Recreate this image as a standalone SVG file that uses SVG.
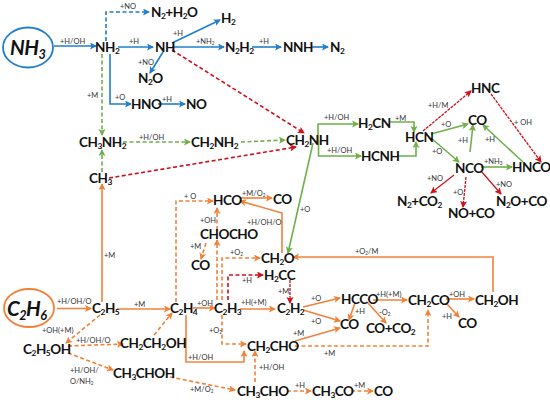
<svg xmlns="http://www.w3.org/2000/svg" width="550" height="403" viewBox="0 0 550 403">
<style>
text{font-family:"Lato","Liberation Sans",sans-serif}
.n{font-size:13.500px;font-weight:700;fill:#111;letter-spacing:-.45px}
.big{font-size:20.500px;font-weight:700;font-style:italic;fill:#111;letter-spacing:-.5px}
.l{font-size:7.500px;fill:#333}
.s{font-size:62%;baseline-shift:-28%}
path{fill:none;stroke-width:1.6}
.b{stroke:#1f7fcc;marker-end:url(#mb)}
.g{stroke:#6fb04a;marker-end:url(#mg)}
.o{stroke:#f2823a;marker-end:url(#mo)}
.r{stroke:#d0101c;marker-end:url(#mr)}
.d{stroke-dasharray:4 2.5}
.t{stroke-dasharray:3 1;stroke-width:1.3}
.h{stroke-width:1.2}
.e{fill:#fff;stroke-width:1.8}
</style>
<defs>
<marker id="mb" markerUnits="userSpaceOnUse" markerWidth="8" markerHeight="8" refX="6" refY="3.5" orient="auto"><path d="M0,0 L7,3.5 L0,7 L1.5,3.5 z" style="fill:#1f7fcc;stroke:none"/></marker>
<marker id="mg" markerUnits="userSpaceOnUse" markerWidth="8" markerHeight="8" refX="6" refY="3.5" orient="auto"><path d="M0,0 L7,3.5 L0,7 L1.5,3.5 z" style="fill:#6fb04a;stroke:none"/></marker>
<marker id="mo" markerUnits="userSpaceOnUse" markerWidth="8" markerHeight="8" refX="6" refY="3.5" orient="auto"><path d="M0,0 L7,3.5 L0,7 L1.5,3.5 z" style="fill:#f2823a;stroke:none"/></marker>
<marker id="mr" markerUnits="userSpaceOnUse" markerWidth="8" markerHeight="8" refX="6" refY="3.5" orient="auto"><path d="M0,0 L7,3.5 L0,7 L1.5,3.5 z" style="fill:#d0101c;stroke:none"/></marker>
</defs>
<g id="connectors">
<path class="b" d="M54,46H96"/>
<path class="b" d="M118,47H153"/>
<path class="b d" d="M106,41V12H149"/>
<path class="b" d="M172,43L220,20"/>
<path class="b" d="M172,47H224"/>
<path class="b" d="M252,47H281"/>
<path class="b" d="M311,47H328"/>
<path class="b" d="M163,52L150,73"/>
<path class="b" d="M110,54V104H131"/>
<path class="b" d="M158,104H185"/>
<path class="g d" d="M102,54V135"/>
<path class="g d" d="M102,172V150"/>
<path class="g d" d="M123,142H190"/>
<path class="g d" d="M241,142L285,140"/>
<path class="g" d="M318,140V124H358"/>
<path class="g" d="M318.500,140V156H361"/>
<path class="g" d="M390,122H414V132"/>
<path class="g" d="M397,156H416V142"/>
<path class="g" d="M431,134L468,124"/>
<path class="g" d="M431,138L459,162"/>
<path class="g" d="M470,152L473,125"/>
<path class="g" d="M523,162L483,125"/>
<path class="g" d="M481,167H512"/>
<path class="g" d="M313,143L288,253"/>
<path class="r d" d="M172,50L304,133"/>
<path class="r d" d="M109,178L296,147"/>
<path class="r t" d="M423,131L471,91"/>
<path class="r t" d="M491,94L541,162"/>
<path class="r h" d="M454,175L431,193"/>
<path class="r t" d="M466,177L463,207"/>
<path class="r h" d="M481,171L501,194"/>
<path class="r d" d="M228,300V275H263"/>
<path class="r t" d="M290,280V303"/>
<path class="o" d="M102,302V184"/>
<path class="o" d="M57,308.500H91"/>
<path class="o" d="M117,309H170"/>
<path class="o" d="M193,308H215"/>
<path class="o" d="M240,309H275"/>
<path class="o" d="M186,315V362H244V351"/>
<path class="o d" d="M176,302V201H213"/>
<path class="o" d="M240,198H272"/>
<path class="o" d="M282,253V213L240,201"/>
<path class="o d" d="M217,230V208"/>
<path class="o d" d="M217,300V240"/>
<path class="o d" d="M222,300V258H260"/>
<path class="o d" d="M206,243L201,259"/>
<path class="o" d="M493,292V257H293"/>
<path class="o d" d="M222,315V344H246"/>
<path class="o" d="M295,341L340,328"/>
<path class="o d" d="M295,346H428V310"/>
<path class="o" d="M303,307L340,298"/>
<path class="o" d="M303,310L340,321"/>
<path class="o" d="M355,303L349,320"/>
<path class="o" d="M368,303L386,323"/>
<path class="o" d="M373,300H407"/>
<path class="o" d="M446,299H474"/>
<path class="o" d="M446,303L459,317"/>
<path class="o d" d="M100,315L66,343"/>
<path class="o d" d="M68,346L123,344"/>
<path class="o d" d="M154,335L172,313"/>
<path class="o d" d="M68,353L113,370"/>
<path class="o d" d="M170,377L235,390"/>
<path class="o d" d="M287,391H311"/>
<path class="o d" d="M351,391H373"/>
<path class="o d" d="M255,382V351"/>
<text class="l" x="60" y="44">+H/OH</text>
<text class="l" x="120" y="9">+NO</text>
<text class="l" x="129" y="44">+H</text>
<text class="l" x="173" y="36">+H</text>
<text class="l" x="196" y="44">+NH<tspan class="s">2</tspan></text>
<text class="l" x="259" y="44">+H</text>
<text class="l" x="138" y="65">+NO</text>
<text class="l" x="115" y="100">+O</text>
<text class="l" x="162" y="102">+H</text>
<text class="l" x="87" y="98">+M</text>
<text class="l" x="139" y="140">+H/OH</text>
<text class="l" x="104" y="258">+M</text>
<text class="l" x="324" y="120">+H/OH</text>
<text class="l" x="327" y="153">+H/OH</text>
<text class="l" x="395" y="121">+M</text>
<text class="l" x="428" y="108">+H/M</text>
<text class="l" x="514" y="125">+ OH</text>
<text class="l" x="441" y="127">+O</text>
<text class="l" x="432" y="154">+O</text>
<text class="l" x="458" y="143">+H</text>
<text class="l" x="485" y="142">+H</text>
<text class="l" x="484" y="164">+NH<tspan class="s">3</tspan></text>
<text class="l" x="427" y="181">+NO</text>
<text class="l" x="453" y="195">+O</text>
<text class="l" x="496" y="187">+NO</text>
<text class="l" x="300" y="212">+O</text>
<text class="l" x="184" y="199">+ O</text>
<text class="l" x="242" y="196">+M/O<tspan class="s">2</tspan></text>
<text class="l" x="247" y="225">+H/OH/O</text>
<text class="l" x="200" y="223">+OH</text>
<text class="l" x="190" y="249">+M</text>
<text class="l" x="230" y="255">+O<tspan class="s">2</tspan></text>
<text class="l" x="242" y="283">+H</text>
<text class="l" x="278" y="294">+M</text>
<text class="l" x="241" y="305">+H(+M)</text>
<text class="l" x="197" y="306">+OH</text>
<text class="l" x="134" y="307">+M</text>
<text class="l" x="57" y="304">+H/OH/O</text>
<text class="l" x="42" y="333">+OH(+M)</text>
<text class="l" x="76" y="343">+H/OH/O</text>
<text class="l" x="70" y="373">+H/OH/</text>
<text class="l" x="70" y="384">O/NH<tspan class="s">2</tspan></text>
<text class="l" x="190" y="392">+M/O<tspan class="s">2</tspan></text>
<text class="l" x="188" y="360">+H/OH</text>
<text class="l" x="259" y="370">+H/OH</text>
<text class="l" x="209" y="333">+O<tspan class="s">2</tspan></text>
<text class="l" x="293" y="336">+M</text>
<text class="l" x="324" y="356">+M</text>
<text class="l" x="311" y="301">+O</text>
<text class="l" x="311" y="324">+O</text>
<text class="l" x="295" y="388">+H</text>
<text class="l" x="354" y="388">+M</text>
<text class="l" x="355" y="254">+O<tspan class="s">2</tspan>/M</text>
<text class="l" x="355" y="314">+H</text>
<text class="l" x="379" y="315">-O<tspan class="s">2</tspan></text>
<text class="l" x="376" y="297">+H(+M)</text>
<text class="l" x="449" y="297">+OH</text>
<text class="l" x="442" y="319">+H</text>
</g>
<g id="NH3"><ellipse class="e" cx="28" cy="47.500" rx="25" ry="20" stroke="#1f7fcc"/><text class="big" x="10" y="55">NH<tspan class="s">3</tspan></text></g>
<g id="C2H6"><ellipse class="e" cx="29" cy="308" rx="25" ry="19" stroke="#f2823a"/><text class="big" x="7" y="316">C<tspan class="s">2</tspan>H<tspan class="s">6</tspan></text></g>
<g id="NH2"><text class="n" x="95" y="52">NH<tspan class="s">2</tspan></text></g>
<g id="NH"><text class="n" x="155" y="52">NH</text></g>
<g id="N2H2O"><text class="n" x="151" y="17">N<tspan class="s">2</tspan>+H<tspan class="s">2</tspan>O</text></g>
<g id="H2"><text class="n" x="221" y="23">H<tspan class="s">2</tspan></text></g>
<g id="N2H2"><text class="n" x="225" y="52">N<tspan class="s">2</tspan>H<tspan class="s">2</tspan></text></g>
<g id="NNH"><text class="n" x="283" y="52">NNH</text></g>
<g id="N2"><text class="n" x="330" y="52">N<tspan class="s">2</tspan></text></g>
<g id="N2O"><text class="n" x="138" y="83">N<tspan class="s">2</tspan>O</text></g>
<g id="HNO"><text class="n" x="131" y="109">HNO</text></g>
<g id="NO"><text class="n" x="186" y="109">NO</text></g>
<g id="CH3NH2"><text class="n" x="79" y="147">CH<tspan class="s">3</tspan>NH<tspan class="s">2</tspan></text></g>
<g id="CH2NH2"><text class="n" x="191" y="147">CH<tspan class="s">2</tspan>NH<tspan class="s">2</tspan></text></g>
<g id="CH2NH"><text class="n" x="286" y="145">CH<tspan class="s">2</tspan>NH</text></g>
<g id="CH3"><text class="n" x="89" y="183">CH<tspan class="s">3</tspan></text></g>
<g id="H2CN"><text class="n" x="358" y="128">H<tspan class="s">2</tspan>CN</text></g>
<g id="HCNH"><text class="n" x="361" y="161">HCNH</text></g>
<g id="HCN"><text class="n" x="405" y="142">HCN</text></g>
<g id="HNC"><text class="n" x="471" y="93">HNC</text></g>
<g id="CO1"><text class="n" x="468" y="125">CO</text></g>
<g id="NCO"><text class="n" x="455" y="173">NCO</text></g>
<g id="HNCO"><text class="n" x="512" y="172">HNCO</text></g>
<g id="N2CO2"><text class="n" x="397" y="206">N<tspan class="s">2</tspan>+CO<tspan class="s">2</tspan></text></g>
<g id="NOCO"><text class="n" x="448" y="218">NO+CO</text></g>
<g id="N2OCO"><text class="n" x="496" y="206">N<tspan class="s">2</tspan>O+CO</text></g>
<g id="HCO"><text class="n" x="213" y="205">HCO</text></g>
<g id="CO2"><text class="n" x="273" y="204">CO</text></g>
<g id="CHOCHO"><text class="n" x="200" y="239">CHOCHO</text></g>
<g id="CO3"><text class="n" x="191" y="270">CO</text></g>
<g id="CH2O"><text class="n" x="261" y="263">CH<tspan class="s">2</tspan>O</text></g>
<g id="H2CC"><text class="n" x="264" y="280">H<tspan class="s">2</tspan>CC</text></g>
<g id="C2H5"><text class="n" x="92" y="313">C<tspan class="s">2</tspan>H<tspan class="s">5</tspan></text></g>
<g id="C2H4"><text class="n" x="170" y="313">C<tspan class="s">2</tspan>H<tspan class="s">4</tspan></text></g>
<g id="C2H3"><text class="n" x="214" y="313">C<tspan class="s">2</tspan>H<tspan class="s">3</tspan></text></g>
<g id="C2H2"><text class="n" x="277" y="313">C<tspan class="s">2</tspan>H<tspan class="s">2</tspan></text></g>
<g id="HCCO"><text class="n" x="341" y="304">HCCO</text></g>
<g id="CO4"><text class="n" x="340" y="329">CO</text></g>
<g id="COCO2"><text class="n" x="366" y="333">CO+CO<tspan class="s">2</tspan></text></g>
<g id="CH2CO"><text class="n" x="408" y="305">CH<tspan class="s">2</tspan>CO</text></g>
<g id="CH2OH"><text class="n" x="475" y="305">CH<tspan class="s">2</tspan>OH</text></g>
<g id="CO5"><text class="n" x="458" y="328">CO</text></g>
<g id="C2H5OH"><text class="n" x="23" y="354">C<tspan class="s">2</tspan>H<tspan class="s">5</tspan>OH</text></g>
<g id="CH2CH2OH"><text class="n" x="120" y="348">CH<tspan class="s">2</tspan>CH<tspan class="s">2</tspan>OH</text></g>
<g id="CH3CHOH"><text class="n" x="113" y="378">CH<tspan class="s">3</tspan>CHOH</text></g>
<g id="CH2CHO"><text class="n" x="247" y="351">CH<tspan class="s">2</tspan>CHO</text></g>
<g id="CH3CHO"><text class="n" x="237" y="396">CH<tspan class="s">3</tspan>CHO</text></g>
<g id="CH3CO"><text class="n" x="312" y="396">CH<tspan class="s">3</tspan>CO</text></g>
<g id="CO6"><text class="n" x="374" y="396">CO</text></g>
</svg>
